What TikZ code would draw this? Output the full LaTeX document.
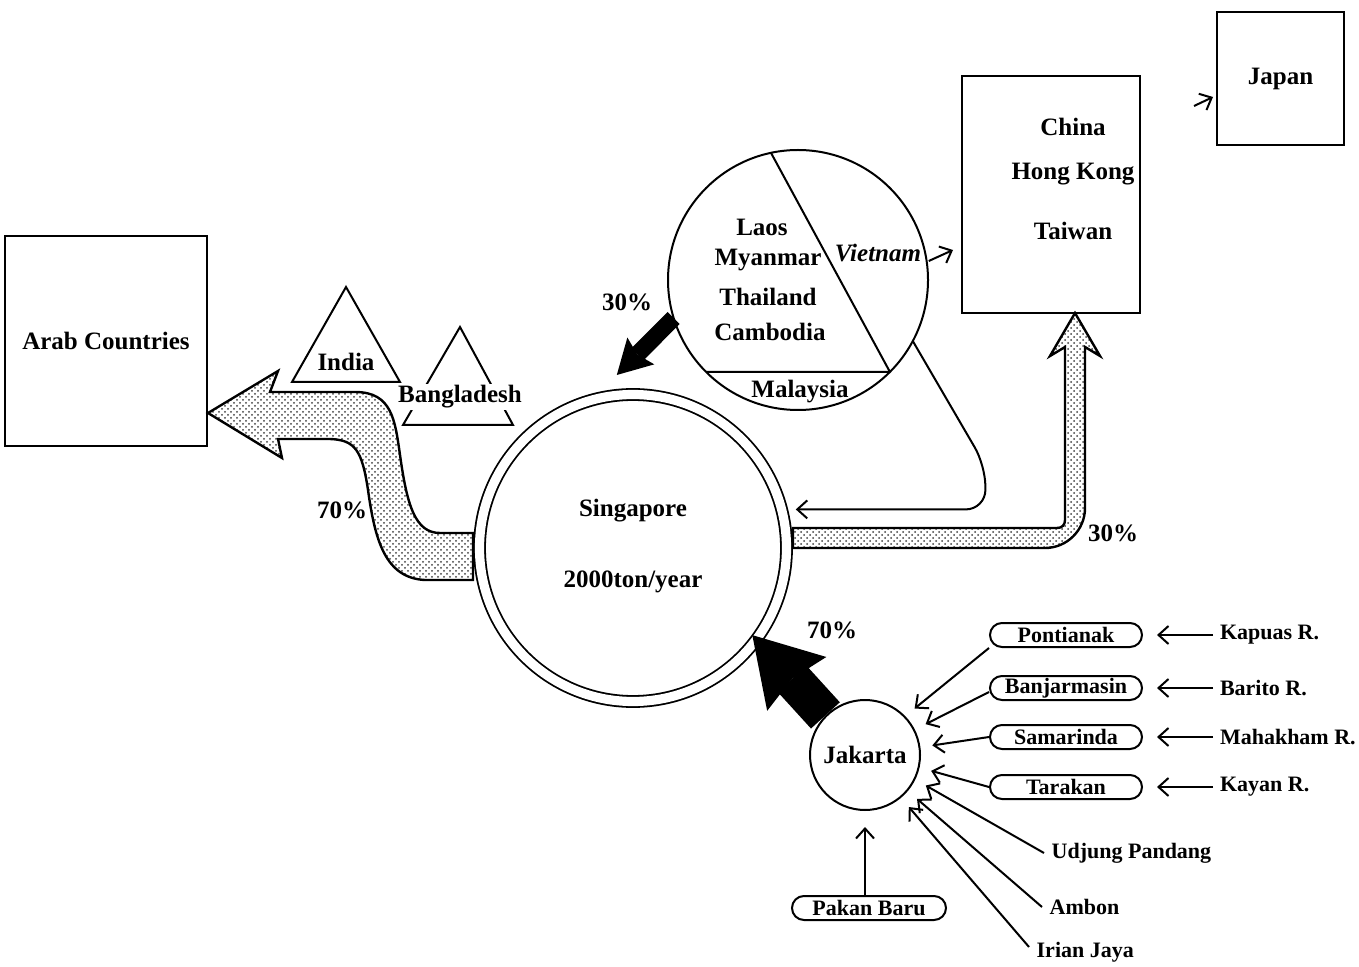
\documentclass[tikz,border=0pt]{standalone}
\usepackage{fontspec}
\setmainfont{Liberation Serif}
\usetikzlibrary{arrows.meta,patterns}

\begin{document}
\begin{tikzpicture}[x=0.5pt,y=-0.5pt,line width=1pt,
        font=\bfseries\fontsize{12.5}{15}\selectfont,
        small/.style={font=\bfseries\fontsize{11}{13}\selectfont},
        box/.style={draw,line width=1.1pt,inner sep=0pt},
        town/.style={draw,small,rounded corners=6pt,minimum width=76pt,minimum height=12pt,inner sep=0pt},
        thinarrow/.style={-{Straight Barb[length=5pt,width=9pt]}},
        band/.style={draw,line width=1.2pt,pattern=crosshatch dots,pattern color=black!75},
        bigblack/.style={line width=19.5pt,-{Stealth[length=33pt,width=40pt,inset=3.5pt,line width=0pt]}},
        smallblack/.style={line width=8.5pt,-{Stealth[length=17pt,width=19pt,inset=2.5pt,line width=0pt]}}]
    \useasboundingbox (0,0) rectangle (1359,967);

    \node[box,minimum width=101pt,minimum height=105pt] (arab) at (106,341) {Arab Countries};
    \draw (292,382) -- (346,287) -- (400,382) -- cycle;
    \node (india) at (346,362) {India};
    \draw (403,425) -- (460,327) -- (513,425) -- cycle;
    \node[fill=white,inner sep=1pt] (bang) at (460,397) {Bangladesh};

    \draw[band] (208,413) -- (278,371) -- (270,392) -- (355,392)
        .. controls (392,392) and (395,420) .. (400,455)
        .. controls (407,505) and (415,533) .. (440,533) -- (473,533) -- (473,580) -- (425,580)
        .. controls (385,578) and (375,540) .. (368,490)
        .. controls (362,450) and (355,440) .. (330,439) -- (278,439) -- (282,458) -- cycle;
    \node (p70a) at (342,510) {70\%};

    \node[circle,draw,double,double distance=4.6pt,line width=0.9pt,minimum size=153.5pt,outer sep=3pt] (sing) at (633,548) {};
    \node (sg) at (633,511) {Singapore};
    \node (ton) at (633,582) {2000ton/year};

    \node[circle,draw,minimum size=130pt,outer sep=0pt] (lao) at (798,280) {};
    \draw (lao.102) -- (lao.-45) (lao.-135) -- (lao.-45);
    \node (laos) at (762,227) {Laos};
    \node (mya) at (768,260) {Myanmar};
    \node (tha) at (768,297) {Thailand};
    \node (cam) at (770,332) {Cambodia};
    \node[font=\bfseries\itshape\fontsize{12.5}{15}\selectfont] (vn) at (878,253) {Vietnam};
    \node (mal) at (800,392) {Malaysia};

    \node[box,minimum width=89pt,minimum height=118.5pt] (china) at (1051,194.5) {};
    \node (cn) at (1073,127) {China};
    \node (hk) at (1073,174) {Hong Kong};
    \node (tw) at (1073,231) {Taiwan};
    \node[box,minimum width=63.5pt,minimum height=66.5pt] (japan) at (1280.5,78.5) {Japan};

    \coordinate (vtip) at (953,250);
    \draw[thinarrow] ([yshift=-4pt]vn.east) -- (vtip);
    \coordinate (jtail) at (1194,106);
    \coordinate (jtip) at (1213,97);
    \draw[thinarrow] (jtail) -- (jtip);

    \draw[smallblack,shorten >=12pt] (lao.197) -- (sing.102);
    \node (p30a) at (627,302) {30\%};

    \draw[{Straight Barb[length=5pt,width=9pt]}-,rounded corners=10pt] ([xshift=4pt]sing.14) -- ++(190,0) -- (985,465) -- (lao.-28);

    \draw[band] (793,528) -- (1057,528) .. controls (1062,528) and (1065,525) .. (1065,520) -- (1065,347)
        -- (1050,356) -- (1075,313) -- (1100,356) -- (1085,347) -- (1085,508)
        .. controls (1085,530) and (1067,548) .. (1045,548) -- (793,548) -- cycle;
    \node (p30b) at (1113,533) {30\%};

    \node[circle,draw,minimum size=55pt,inner sep=0pt] (jak) at (865,755) {Jakarta};
    \draw[bigblack,shorten >=-6pt] (jak.135) -- (sing.-37);
    \node (p70b) at (832,630) {70\%};

    \foreach \nm/\town/\nr/\riv/\y in {pon/Pontianak/kap/Kapuas R./635,ban/Banjarmasin/bar/Barito R./688,
            sam/Samarinda/mah/Mahakham R./737,tar/Tarakan/kay/Kayan R./787} {
        \node[town] (\nm) at (1066,\y) {\town};
        \node[small,anchor=west,inner sep=3pt] (\nr) at (1213,\y) {\riv};
        \draw[thinarrow,shorten >=7pt] (\nr.west) -- (\nm.east);
    }
    \node[small,anchor=west] (udj) at (1044,853) {Udjung Pandang};
    \node[small,anchor=west] (amb) at (1042,907) {Ambon};
    \node[small,anchor=west] (iri) at (1029,952) {Irian Jaya};
    \node[town,minimum width=77pt] (pak) at (869,908) {Pakan Baru};

    \begin{scope}[thinarrow,shorten >=6pt]
        \draw (pon.south west) -- (jak.44);
        \draw ([yshift=-2pt]ban.west) -- (jak.27);
        \draw (sam.west) -- (jak.8);
        \draw (tar.west) -- (jak.-13);
        \draw (udj.west) -- (jak.-26);
        \draw (amb.west) -- (jak.-40);
        \draw ([yshift=2.5pt]iri.west) -- (jak.-50);
        \draw[shorten >=8pt] (pak.north -| jak.south) -- (jak.south);
    \end{scope}
\end{tikzpicture}
\end{document}
